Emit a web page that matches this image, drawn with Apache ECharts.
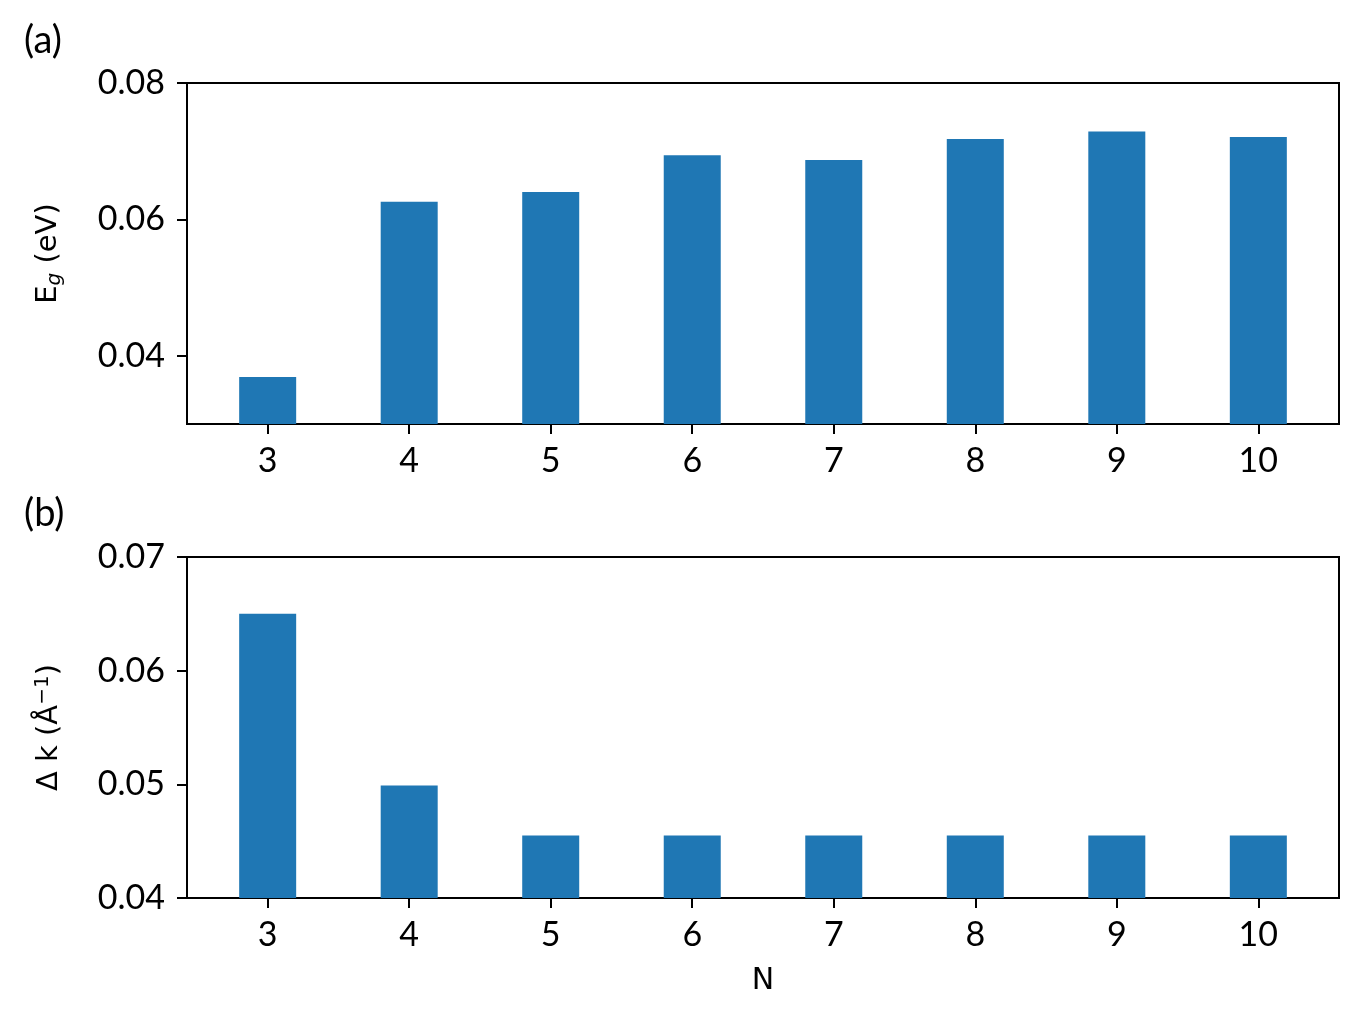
<!DOCTYPE html>
<html>
<head>
<meta charset="utf-8">
<script src="https://cdn.jsdelivr.net/npm/echarts@6/dist/echarts.min.js"></script>
<style>
  html, body { margin: 0; padding: 0; background: #fff; }
  #chart { width: 1361px; height: 1020px; }
</style>
</head>
<body>
<div id="chart"></div>
<script>
const nValues = [3, 4, 5, 6, 7, 8, 9, 10];
const gapValues = [0.0369, 0.0626, 0.0640, 0.0694, 0.0687, 0.0718, 0.0729, 0.0721];
const dkValues = [0.0650, 0.0499, 0.0455, 0.0455, 0.0455, 0.0455, 0.0455, 0.0455];
const gapTicks = [0.04, 0.06, 0.08];
const dkTicks = [0.04, 0.05, 0.06, 0.07];

const tickFont = 'Lato';
const nameFont = 'DejaVu Sans';

const chart = echarts.init(document.getElementById('chart'));

const xAxisBase = (gridIndex, name) => ({
    type: 'value',
    gridIndex: gridIndex,
    min: 2.43,
    max: 10.57,
    name: name,
    nameLocation: 'middle',
    nameGap: 68,
    nameTextStyle: { color: '#000', fontSize: 30, fontFamily: nameFont },
    axisLine: { show: false },
    splitLine: { show: false },
    axisTick: {
        show: true, length: 10, inside: false,
        customValues: nValues,
        lineStyle: { color: '#000', width: 2 }
    },
    axisLabel: {
        customValues: nValues,
        color: '#000', fontSize: 34, fontFamily: tickFont, margin: 20,
        formatter: v => String(v)
    }
});

const yAxisBase = (gridIndex, min, max, ticks, name, rich) => ({
    type: 'value',
    gridIndex: gridIndex,
    min: min,
    max: max,
    name: name,
    nameLocation: 'middle',
    nameGap: 122,
    nameRotate: 90,
    nameTextStyle: { color: '#000', fontSize: 29, fontFamily: nameFont, rich: rich },
    axisLine: { show: false },
    splitLine: { show: false },
    axisTick: {
        show: true, length: 10, inside: false,
        customValues: ticks,
        lineStyle: { color: '#000', width: 2 }
    },
    axisLabel: {
        customValues: ticks,
        color: '#000', fontSize: 34, fontFamily: tickFont, margin: 22,
        formatter: v => v.toFixed(2)
    }
});

const option = {
    animation: false,
    backgroundColor: '#fff',
    graphic: [
        { type: 'text', left: 24, top: 22, style: { text: '(a)', fontSize: 38, fontFamily: tickFont, fill: '#000' } },
        { type: 'text', left: 24, top: 495, style: { text: '(b)', fontSize: 38, fontFamily: tickFont, fill: '#000' } }
    ],
    grid: [
        { left: 187, right: 22, top: 83, height: 341, show: true, borderColor: '#000', borderWidth: 2, backgroundColor: 'transparent' },
        { left: 187, right: 22, top: 557, height: 341, show: true, borderColor: '#000', borderWidth: 2, backgroundColor: 'transparent' }
    ],
    xAxis: [
        xAxisBase(0, ''),
        xAxisBase(1, 'N')
    ],
    yAxis: [
        yAxisBase(0, 0.03, 0.08, gapTicks, 'E{sub|g} (eV)', {
            sub: { fontSize: 20, fontStyle: 'italic', fontFamily: nameFont, verticalAlign: 'bottom', padding: [14, 0, 0, 0] }
        }),
        yAxisBase(1, 0.04, 0.07, dkTicks, 'Δ k (Å{sup|−1})', {
            sup: { fontSize: 20, fontFamily: nameFont, verticalAlign: 'top', padding: [0, 0, 12, 0] }
        })
    ],
    series: [
        {
            type: 'bar',
            xAxisIndex: 0, yAxisIndex: 0,
            barWidth: 57,
            itemStyle: { color: '#1f77b4' },
            data: nValues.map((n, i) => [n, gapValues[i]])
        },
        {
            type: 'bar',
            xAxisIndex: 1, yAxisIndex: 1,
            barWidth: 57,
            itemStyle: { color: '#1f77b4' },
            data: nValues.map((n, i) => [n, dkValues[i]])
        }
    ]
};

chart.setOption(option);
</script>
</body>
</html>
